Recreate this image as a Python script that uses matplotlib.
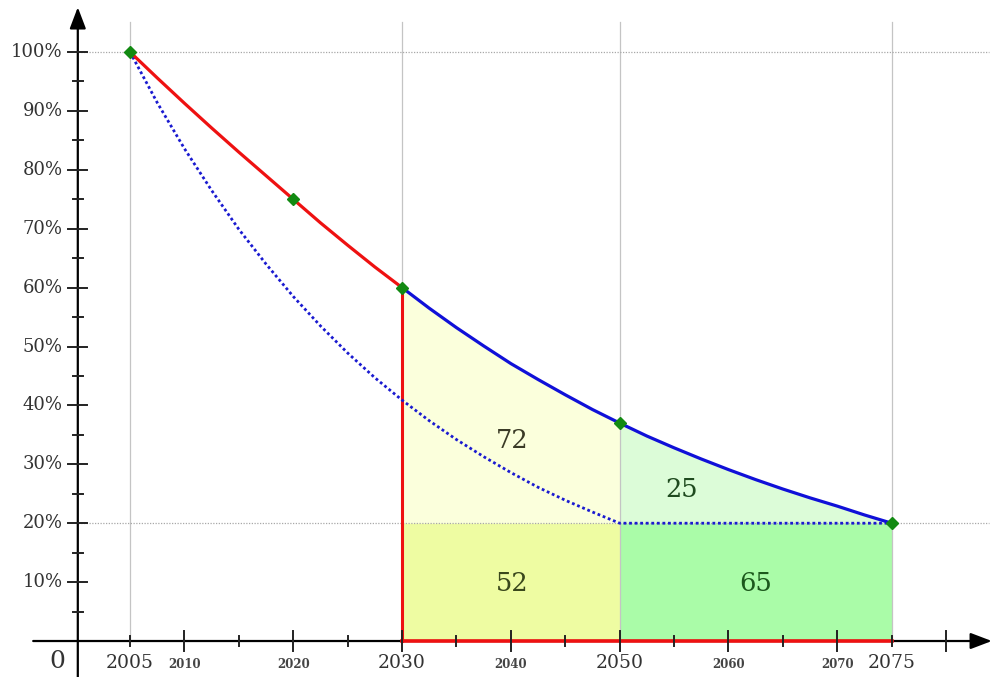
import matplotlib
matplotlib.use("Agg")
import matplotlib.pyplot as plt
from matplotlib.patches import ArrowStyle

# ---- data ----
red_years = [2005, 2007.5, 2010, 2012.5, 2015, 2017.5, 2020, 2022.5, 2025, 2027.5, 2030]
red_vals = [100, 95.6, 91.3, 87.1, 83.0, 79.0, 75, 71.0, 67.2, 63.5, 60]

blue_years = [2030, 2032.5, 2035, 2037.5, 2040, 2042.5, 2045, 2047.5, 2050,
              2052.5, 2055, 2057.5, 2060, 2062.5, 2065, 2067.5, 2070, 2072.5, 2075]
blue_vals = [60, 56.5, 53.2, 50.1, 47.1, 44.4, 41.8, 39.3, 37,
             34.8, 32.8, 30.9, 29.1, 27.4, 25.8, 24.3, 22.9, 21.4, 20]

dot_years = [2005, 2007.5, 2010, 2012.5, 2015, 2017.5, 2020, 2022.5, 2025, 2027.5,
             2030, 2032.5, 2035, 2037.5, 2040, 2042.5, 2045, 2047.5, 2050, 2075]
dot_vals = [100, 91.4, 83.6, 76.5, 69.9, 64.0, 58.5, 53.5, 48.9, 44.7,
            40.9, 37.4, 34.2, 31.3, 28.6, 26.1, 23.9, 21.9, 20, 20]

marker_years = [2005, 2020, 2030, 2050, 2075]
marker_vals = [100, 75, 60, 37, 20]

floor_level = 20
key_years = [2005, 2030, 2050, 2075]
big_xlabels = ["2005", "2030", "2050", "2075"]
small_years = [2010, 2020, 2040, 2060, 2070]
small_xlabels = ["2010", "2020", "2040", "2060", "2070"]
ytick_vals = [10, 20, 30, 40, 50, 60, 70, 80, 90, 100]
ytick_labels = ["10%", "20%", "30%", "40%", "50%", "60%", "70%", "80%", "90%", "100%"]

area_labels = ["72", "25", "52", "65"]
area_pos = [(2040.1, 34.0), (2055.7, 25.7), (2040.1, 9.8), (2062.5, 9.8)]
area_colors = ["#3a3a26", "#1f4a1f", "#3a481c", "#1c581c"]

# ---- figure ----
fig = plt.figure(figsize=(9.94, 6.77), dpi=100)
ax = fig.add_axes([0, 0, 1, 1])
ax.set_xlim(1993.05, 2084.4)
ax.set_ylim(-6.11, 108.83)
ax.axis("off")

serif = "DejaVu Serif"
axis_x0 = 2000.2   # position of vertical axis

# fills
ax.fill_between([2030, 2050], 0, floor_level, color="#eefca2", lw=0, zorder=1)
ax.fill_between([2050, 2075], 0, floor_level, color="#aafca8", lw=0, zorder=1)
b_in1 = [(y, v) for y, v in zip(blue_years, blue_vals) if y <= 2050]
b_in2 = [(y, v) for y, v in zip(blue_years, blue_vals) if y >= 2050]
ax.fill_between([p[0] for p in b_in1], floor_level, [p[1] for p in b_in1],
                color="#fbffdc", lw=0, zorder=1)
ax.fill_between([p[0] for p in b_in2], floor_level, [p[1] for p in b_in2],
                color="#dcfcd8", lw=0, zorder=1)

# grid lines
for yr in key_years:
    ax.plot([yr, yr], [0, 105.1], color="#c4c4c4", lw=0.9, zorder=2)
for v in [100, floor_level]:
    ax.plot([axis_x0, 2083.9], [v, v], color="#a8a8a8", lw=0.9,
            ls=(0, (1, 1.2)), zorder=2)

# axes with arrows
arrow = ArrowStyle("-|>", head_length=1.0, head_width=0.38)
ax.annotate("", xy=(2084.2, 0), xytext=(1996.1, 0),
            arrowprops=dict(arrowstyle=arrow, mutation_scale=13, lw=1.6,
                            color="black", shrinkA=0, shrinkB=0), zorder=3)
ax.annotate("", xy=(axis_x0, 107.6), xytext=(axis_x0, -6.2),
            arrowprops=dict(arrowstyle=arrow, mutation_scale=13, lw=1.6,
                            color="black", shrinkA=0, shrinkB=0), zorder=3)

# red outline of the area
ax.plot([2030, 2030], [0, 60], color="#ee1111", lw=2.2, zorder=4)
ax.plot([2030, 2075], [0, 0], color="#ee1111", lw=2.6, zorder=4)

# x ticks
for yr in range(2005, 2081, 5):
    h = 1.65 if yr % 10 == 0 else 0.9
    ax.plot([yr, yr], [-h, h], color="#222222", lw=1.4, zorder=5)
# y ticks
for v in range(5, 101, 5):
    w = 0.87 if v % 10 == 0 else 0.47
    ax.plot([axis_x0 - w, axis_x0 + w], [v, v], color="#222222", lw=1.4, zorder=5)

# curves
ax.plot(dot_years, dot_vals, color="#1a1ad0", lw=2.0, ls=(0, (1, 1)), zorder=6)
ax.plot(red_years, red_vals, color="#ee1111", lw=2.3, zorder=6)
ax.plot(blue_years, blue_vals, color="#1010d8", lw=2.3, zorder=6)
ax.plot(marker_years, marker_vals, ls="none", marker="D", ms=6.5,
        color="#128a12", mec="#128a12", zorder=7)

# tick labels
for v, lab in zip(ytick_vals, ytick_labels):
    ax.annotate(lab, xy=(axis_x0, v), xytext=(-11, 0), textcoords="offset points",
                ha="right", va="center", fontsize=13, family=serif, color="#333333")
for yr, lab in zip(key_years, big_xlabels):
    ax.annotate(lab, xy=(yr, 0), xytext=(0, -16), textcoords="offset points",
                ha="center", va="center", fontsize=13.5, family=serif, color="#333333")
for yr, lab in zip(small_years, small_xlabels):
    ax.annotate(lab, xy=(yr, 0), xytext=(0, -17), textcoords="offset points",
                ha="center", va="center", fontsize=8.5, family=serif,
                fontweight="bold", color="#444444")
ax.annotate("0", xy=(axis_x0, 0), xytext=(-14.5, -15), textcoords="offset points",
            ha="center", va="center", fontsize=18, family=serif, color="#333333")

# area labels
for lab, (x, y), c in zip(area_labels, area_pos, area_colors):
    ax.text(x, y, lab, ha="center", va="center", fontsize=18.5, family=serif,
            color=c, zorder=8)

fig.savefig("out.png", dpi=100)
